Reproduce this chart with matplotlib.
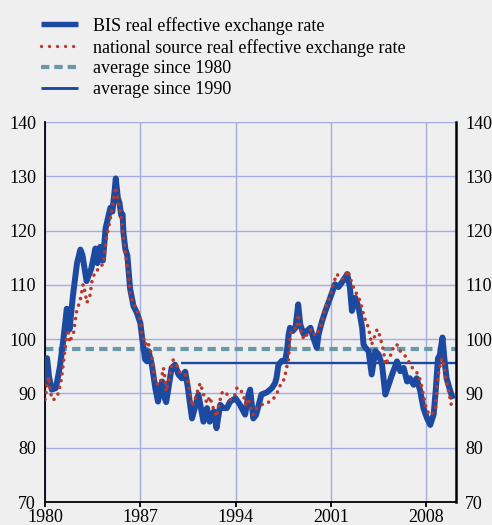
#! /usr/bin/env python

import matplotlib.pyplot as plt
from matplotlib.lines import Line2D

plt.rcParams['font.family'] = ['Liberation Serif', 'DejaVu Serif']

# BIS real effective exchange rate
bis_year = [
    1980.0, 1980.15, 1980.3, 1980.5, 1980.8, 1981.1, 1981.35, 1981.6, 1981.8, 1982.05,
    1982.35, 1982.6, 1982.75, 1983.05, 1983.4, 1983.7, 1983.85, 1984.05, 1984.25, 1984.45,
    1984.6, 1984.8, 1984.95, 1985.1, 1985.2, 1985.35, 1985.46, 1985.6, 1985.7, 1985.76,
    1985.9, 1986.05, 1986.15, 1986.25, 1986.4, 1986.5, 1986.74, 1987.0, 1987.2, 1987.35,
    1987.5, 1987.6, 1987.85, 1988.0, 1988.1, 1988.3, 1988.6, 1988.8, 1988.9, 1989.07,
    1989.3, 1989.55, 1989.8, 1990.05, 1990.3, 1990.5, 1990.66, 1990.8, 1991.0, 1991.27,
    1991.5, 1991.64, 1991.9, 1992.1, 1992.4, 1992.6, 1992.87, 1993.1, 1993.36, 1993.6,
    1994.0, 1994.3, 1994.7, 1994.95, 1995.07, 1995.3, 1995.5, 1995.9, 1996.3, 1996.67,
    1996.9, 1997.0, 1997.15, 1997.4, 1997.65, 1997.8, 1997.9, 1998.0, 1998.2, 1998.4,
    1998.6, 1998.75, 1999.0, 1999.24, 1999.5, 1999.7, 1999.97, 2000.1, 2000.35, 2000.6,
    2000.95, 2001.3, 2001.56, 2001.8, 2002.06, 2002.2, 2002.4, 2002.55, 2002.8, 2003.04,
    2003.3, 2003.4, 2003.55, 2003.77, 2004.0, 2004.26, 2004.5, 2004.76, 2005.0, 2005.24,
    2005.5, 2005.86, 2006.1, 2006.35, 2006.6, 2006.8, 2007.08, 2007.3, 2007.57, 2007.8,
    2008.07, 2008.3, 2008.55, 2008.7, 2008.87, 2009.0, 2009.2, 2009.36, 2009.5, 2009.78,
    2009.9,
]
bis_val = [
    92.0, 96.5, 93.0, 90.7, 91.0, 95.0, 100.0, 105.6, 101.8, 108.0,
    114.0, 116.5, 115.5, 110.7, 113.0, 116.7, 114.0, 117.0, 114.5, 120.4,
    122.0, 124.2, 123.5, 127.0, 129.6, 126.0, 125.2, 122.8, 123.0, 119.7,
    116.6, 115.4, 112.3, 109.3, 107.4, 106.1, 104.9, 103.0, 99.0, 96.3,
    95.9, 97.8, 95.3, 92.8, 91.0, 88.5, 92.2, 89.1, 88.4, 91.0,
    94.7, 95.3, 93.5, 92.8, 94.0, 91.0, 87.9, 85.4, 87.3, 89.8,
    86.7, 84.8, 87.3, 84.8, 86.7, 83.6, 87.9, 87.3, 87.3, 88.5,
    89.1, 88.0, 86.1, 89.8, 90.7, 85.4, 86.0, 89.8, 90.2, 91.0,
    91.9, 92.8, 95.3, 96.0, 96.0, 98.4, 100.9, 102.1, 101.5, 102.1,
    106.4, 102.7, 100.9, 101.5, 102.1, 100.3, 98.4, 100.9, 103.3, 105.2,
    107.6, 110.1, 109.6, 110.4, 111.4, 112.0, 109.5, 105.2, 107.6, 105.8,
    102.1, 99.0, 98.4, 97.8, 93.5, 97.8, 97.2, 95.3, 89.8, 91.6,
    93.5, 95.9, 94.1, 94.7, 92.2, 92.8, 91.6, 92.8, 90.4, 87.3,
    85.4, 84.2, 86.1, 90.4, 96.5, 97.0, 100.3, 95.9, 92.8, 90.4,
    89.5,
]

# national source real effective exchange rate
nat_year = [
    1980.0, 1980.25, 1980.5, 1980.7, 1981.0, 1981.2, 1981.35, 1981.55, 1981.7, 1981.8,
    1982.1, 1982.3, 1982.6, 1982.8, 1982.95, 1983.07, 1983.3, 1983.45, 1983.7, 1984.0,
    1984.3, 1984.5, 1984.8, 1985.0, 1985.2, 1985.4, 1985.6, 1985.76, 1985.9, 1986.05,
    1986.15, 1986.25, 1986.45, 1986.74, 1987.0, 1987.1, 1987.35, 1987.55, 1987.85, 1988.1,
    1988.45, 1988.7, 1988.8, 1988.9, 1989.2, 1989.4, 1989.65, 1989.93, 1990.3, 1990.55,
    1990.8, 1991.0, 1991.4, 1991.65, 1991.9, 1992.1, 1992.4, 1992.6, 1992.8, 1993.0,
    1993.25, 1993.6, 1993.9, 1994.1, 1994.3, 1994.6, 1994.75, 1994.95, 1995.1, 1995.3,
    1995.55, 1995.9, 1996.2, 1996.55, 1996.8, 1997.0, 1997.3, 1997.5, 1997.65, 1997.77,
    1997.9, 1997.97, 1998.1, 1998.3, 1998.5, 1998.6, 1998.7, 1998.85, 1999.1, 1999.35,
    1999.6, 1999.85, 2000.1, 2000.35, 2000.45, 2000.7, 2000.95, 2001.2, 2001.45, 2001.7,
    2001.95, 2002.25, 2002.4, 2002.67, 2002.9, 2003.16, 2003.4, 2003.55, 2003.77, 2004.0,
    2004.4, 2004.6, 2004.87, 2005.0, 2005.25, 2005.5, 2005.6, 2005.85, 2006.1, 2006.35,
    2006.6, 2006.9, 2007.2, 2007.45, 2007.7, 2007.94, 2008.2, 2008.4, 2008.7, 2008.8,
    2008.95, 2009.17, 2009.36, 2009.5, 2009.7, 2009.85, 2010.05,
]
nat_val = [
    88.9, 93.1, 88.9, 88.9, 90.1, 92.6, 95.6, 99.9, 101.8, 99.4,
    101.2, 104.9, 107.4, 110.1, 108.6, 106.7, 108.0, 110.7, 112.6, 112.9,
    114.1, 118.5, 122.2, 125.2, 128.0, 125.2, 122.2, 119.1, 116.0, 113.5,
    111.6, 108.6, 106.7, 105.5, 103.6, 101.2, 99.0, 99.6, 96.9, 91.9,
    91.6, 94.7, 93.1, 90.4, 93.5, 96.2, 95.3, 93.8, 93.5, 91.9,
    87.6, 88.8, 91.9, 89.8, 88.2, 89.4, 87.0, 85.7, 88.2, 90.1,
    90.4, 88.8, 89.4, 91.0, 91.0, 89.5, 87.6, 89.1, 87.4, 86.1,
    87.3, 87.9, 88.2, 88.5, 89.1, 89.8, 91.6, 92.2, 93.5, 95.0,
    96.4, 99.6, 101.5, 102.1, 101.8, 104.6, 103.3, 100.6, 100.0, 101.5,
    101.8, 100.6, 101.5, 103.0, 104.6, 106.4, 108.0, 110.4, 112.0, 111.1,
    111.1, 112.6, 111.4, 109.5, 108.3, 107.0, 104.6, 103.4, 102.1, 99.0,
    101.8, 100.6, 97.8, 95.3, 96.5, 97.5, 98.7, 99.0, 97.8, 97.2,
    96.5, 95.0, 94.1, 93.5, 91.0, 87.9, 86.1, 86.1, 87.3, 91.6,
    94.4, 96.5, 94.6, 92.2, 89.8, 87.9, 88.5,
]

avg_1980 = 98.2
avg_1990 = 95.6
avg_1990_start = 1990.0

x_ticks = [1980, 1987, 1994, 2001, 2008]
y_ticks = [70, 80, 90, 100, 110, 120, 130, 140]

labels = [
    'BIS real effective exchange rate',
    'national source real effective exchange rate',
    'average since 1980',
    'average since 1990',
]

bg = '#efefef'
blue = '#1c4aa0'
red = '#b8392c'
teal = '#6a98a8'
grid_col = '#a3abe0'

fig = plt.figure(figsize=(4.92, 5.25), dpi=100, facecolor=bg)
ax = fig.add_axes([0.0915, 0.0438, 0.8355, 0.7238], facecolor=bg)

# averages sit under the series
ax.axhline(avg_1980, color=teal, lw=3.0, ls=(0, (2.0, 1.25)), zorder=2)
ax.plot([avg_1990_start, 2010.2], [avg_1990, avg_1990], color=blue, lw=1.7,
        solid_capstyle='butt', zorder=2)

ax.plot(bis_year, bis_val, color=blue, lw=4.3, solid_joinstyle='round', zorder=3)
ax.plot(nat_year, nat_val, color=red, lw=2.6, ls=(0, (0.01, 1.9)),
        dash_capstyle='round', zorder=4)

ax.set_xlim(1980, 2010.2)
ax.set_ylim(70, 140)
ax.set_xticks(x_ticks)
ax.set_yticks(y_ticks)
ax.grid(True, color=grid_col, lw=1.0, zorder=1)
ax.set_axisbelow(True)

ax.spines['top'].set_visible(False)
for side in ('left', 'right', 'bottom'):
    ax.spines[side].set_color('black')
    ax.spines[side].set_linewidth(1.3)
ax.spines['right'].set_linewidth(1.8)

ax.tick_params(axis='x', direction='out', length=3.5, width=1.3, pad=1.5,
               labelsize=13)
ax.tick_params(axis='y', length=0, pad=6.5, labelsize=13,
               left=True, right=True, labelleft=True, labelright=True)

handles = [
    Line2D([], [], color=blue, lw=3.9, solid_capstyle='butt'),
    Line2D([], [], color=red, lw=2.4, ls=(0, (0.01, 2.4)), dash_capstyle='round'),
    Line2D([], [], color=teal, lw=3.0, ls=(0, (2.0, 1.2))),
    Line2D([], [], color=blue, lw=2.1, solid_capstyle='butt'),
]
fig.legend(handles, labels, loc='upper left', bbox_to_anchor=(0.083, 0.968),
           frameon=False, fontsize=13, handlelength=2.05, handletextpad=0.85,
           labelspacing=0.22, borderpad=0, borderaxespad=0)

plt.savefig('out.png', dpi=100, facecolor=bg)
